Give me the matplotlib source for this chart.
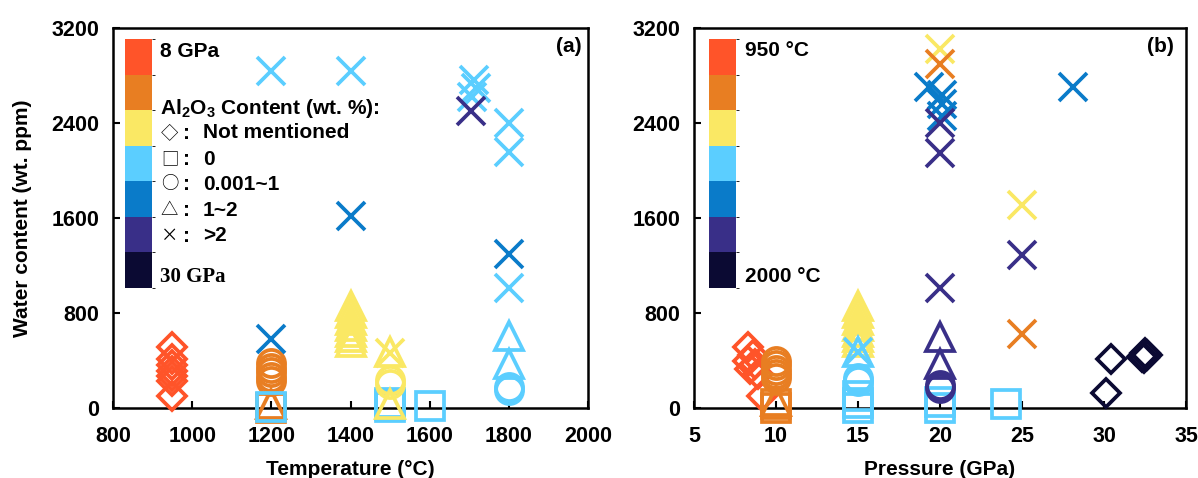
import matplotlib
matplotlib.use("Agg")
import matplotlib.pyplot as plt
from matplotlib.colors import ListedColormap, BoundaryNorm
from matplotlib.cm import ScalarMappable

plt.rcParams['font.family'] = ['Liberation Sans', 'DejaVu Sans']
plt.rcParams['font.weight'] = 'bold'
plt.rcParams['mathtext.fontset'] = 'custom'
plt.rcParams['mathtext.rm'] = 'Liberation Sans:bold'
plt.rcParams['mathtext.default'] = 'rm'

# 7-step colour scale
bin_colors = ['#FF5429', '#E87E22', '#FAE864', '#5BCEFF', '#0A7BC9', '#392F88', '#0B0A33']

# ---------------- panel (a): temperature vs water content, colour = pressure bin
a_T = [950, 950, 950, 950, 950, 950, 950,
       1200, 1200, 1200, 1200, 1200, 1200, 1200, 1200, 1200, 1200,
       1400, 1400, 1400, 1400, 1400, 1400, 1400, 1400, 1400,
       1500, 1500, 1500, 1500, 1500, 1500, 1500, 1500,
       1600,
       1712, 1718, 1708, 1705,
       1800, 1800, 1800, 1800, 1800, 1800, 1800, 1800]
a_W = [510, 410, 360, 310, 270, 230, 100,
       380, 340, 300, 260, 230, 0, 30, 10, 580, 2840,
       2840, 1620, 860, 800, 740, 690, 640, 600, 560,
       45, 25, 5, 470, 460, 240, 205, 30,
       20,
       2760, 2695, 2620, 2500,
       2400, 2155, 1300, 1010, 606, 370, 177, 150]
a_M = ['D', 'D', 'D', 'D', 'D', 'D', 'D',
       'o', 'o', 'o', 'o', 'o', 's', '^', 's', 'x', 'x',
       'x', 'x', '^', '^', '^', '^', '^', '^', '^',
       's', 's', 's', '^', 'x', 'o', 'o', '^',
       's',
       'x', 'x', 'x', 'x',
       'x', 'x', 'x', 'x', '^', '^', 'o', 'o']
a_C = [0, 0, 0, 0, 0, 0, 0,
       1, 1, 1, 1, 1, 1, 1, 3, 4, 3,
       3, 4, 2, 2, 2, 2, 2, 2, 2,
       3, 3, 3, 2, 2, 2, 2, 2,
       3,
       3, 3, 3, 5,
       3, 3, 4, 3, 3, 3, 3, 3]

# ---------------- panel (b): pressure vs water content, colour = temperature bin
b_P = [8.3, 8.6, 8.3, 8.7, 8.4, 8.9, 9.15,
       10, 10, 10, 10, 10, 10, 10, 10,
       15, 15, 15, 15, 15, 15, 15,
       15, 15, 15, 15, 15, 15, 15,
       20, 20, 19.3, 20.1, 20.1, 20.1, 20, 20, 20,
       20, 20, 20, 20, 20, 20,
       24.0, 25, 25, 25, 28.1,
       30.1, 30.45, 32.3, 32.5, 32.4, 32.6, 32.45]
b_W = [510, 450, 400, 370, 330, 290, 105,
       400, 360, 320, 285, 250, 0, 30, 60,
       860, 800, 740, 690, 640, 600, 560,
       100, 40, 0, 250, 225, 470, 470,
       3020, 2900, 2700, 2640, 2560, 2460, 2400, 2150, 1010,
       600, 370, 0, 50, 190, 165,
       30, 1710, 1290, 620, 2700,
       130, 410, 430, 460, 440, 450, 420]
b_M = ['D', 'D', 'D', 'D', 'D', 'D', 'D',
       'o', 'o', 'o', 'o', 'o', 's', 's', '^',
       '^', '^', '^', '^', '^', '^', '^',
       's', 's', 's', 'o', 'o', '^', 'x',
       'x', 'x', 'x', 'x', 'x', 'x', 'x', 'x', 'x',
       '^', '^', 's', 's', 'o', 'o',
       's', 'x', 'x', 'x', 'x',
       'D', 'D', 'D', 'D', 'D', 'D', 'D']
b_C = [0, 0, 0, 0, 0, 0, 0,
       1, 1, 1, 1, 1, 1, 1, 1,
       2, 2, 2, 2, 2, 2, 2,
       3, 3, 3, 3, 3, 3, 3,
       2, 1, 4, 4, 4, 4, 5, 5, 5,
       5, 5, 3, 3, 5, 5,
       3, 2, 5, 1, 4,
       6, 6, 6, 6, 6, 6, 6]

legend_syms = ['\u25C7', '\u25A1', '\u25CB', '\u25B3', '\u00D7']
legend_labels = ['Not mentioned', '0', '0.001~1', '1~2', '>2']

W, H = 1198, 478
fig = plt.figure(figsize=(W / 100, H / 100), dpi=100)
ax1 = fig.add_axes([113 / W, 1 - 408 / H, 475 / W, 380 / H])
ax2 = fig.add_axes([694 / W, 1 - 408 / H, 492 / W, 380 / H])


def draw(ax, xs, ys, ms_, cs):
    for x, y, m, c in zip(xs, ys, ms_, cs):
        size = 14 if m == 'D' else 19.5
        ax.plot([x], [y], linestyle='none', marker=m, markersize=size,
                markerfacecolor='none', markeredgecolor=bin_colors[c],
                markeredgewidth=2.7, clip_on=False, zorder=3)


draw(ax1, a_T, a_W, a_M, a_C)
draw(ax2, b_P, b_W, b_M, b_C)

for ax in (ax1, ax2):
    ax.set_ylim(0, 3200)
    ax.set_yticks([0, 800, 1600, 2400, 3200])
    ax.tick_params(direction='in', length=5, width=1.5, labelsize=15.5)
    ax.tick_params(axis='x', pad=13)
    ax.tick_params(axis='y', pad=10)
    for sp in ax.spines.values():
        sp.set_linewidth(1.8)
    for lab in ax.get_xticklabels() + ax.get_yticklabels():
        lab.set_fontweight('bold')

ax1.set_xlim(800, 2000)
ax1.set_xticks([800, 1000, 1200, 1400, 1600, 1800, 2000])
ax2.set_xlim(5, 35)
ax2.set_xticks([5, 10, 15, 20, 25, 30, 35])

ax1.set_xlabel('Temperature (\u00B0C)', fontsize=15, fontweight='bold', labelpad=9)
ax2.set_xlabel('Pressure (GPa)', fontsize=15, fontweight='bold', labelpad=9)
ax1.set_ylabel('Water content (wt. ppm)', fontsize=15, fontweight='bold', labelpad=14)

# stepped colour bars inside the axes
cmap = ListedColormap(bin_colors[::-1])
norm = BoundaryNorm(list(range(8)), 7)
for ax, x0, w in ((ax1, 0.0253, 0.0568), (ax2, 0.0304, 0.0548)):
    cax = ax.inset_axes([x0, 0.316, w, 0.655])
    cb = fig.colorbar(ScalarMappable(norm=norm, cmap=cmap), cax=cax)
    cb.outline.set_visible(False)
    cax.set_yticks([])
    cax.tick_params(length=0)

# panel (a) annotations
ax1.text(0.099, 0.937, '8 GPa', transform=ax1.transAxes, fontsize=15,
         fontweight='bold', va='center', ha='left')
ax1.text(0.099, 0.345, '30 GPa', transform=ax1.transAxes, fontsize=15,
         fontweight='bold', va='center', ha='left', family=['Liberation Serif'])
ax1.text(0.099, 0.789, r'Al$_2$O$_3$ Content (wt. %):', transform=ax1.transAxes,
         fontsize=15, fontweight='bold', va='center', ha='left')
rows_y = [0.724, 0.655, 0.589, 0.521, 0.453]
for yy, sym, lab in zip(rows_y, legend_syms, legend_labels):
    ax1.text(0.101, yy, sym, transform=ax1.transAxes, fontsize=12.5,
             family=['Noto Sans CJK SC', 'DejaVu Sans'], fontweight='normal',
             va='center', ha='left')
    ax1.text(0.147, yy - 0.002, ':', transform=ax1.transAxes, fontsize=15,
             fontweight='bold', va='center', ha='left')
    ax1.text(0.189, yy, lab, transform=ax1.transAxes, fontsize=15,
             fontweight='bold', va='center', ha='left')
ax1.text(0.987, 0.95, '(a)', transform=ax1.transAxes, fontsize=15,
         fontweight='bold', va='center', ha='right')

# panel (b) annotations
ax2.text(0.1034, 0.942, '950 \u00B0C', transform=ax2.transAxes, fontsize=15,
         fontweight='bold', va='center', ha='left')
ax2.text(0.1034, 0.345, '2000 \u00B0C', transform=ax2.transAxes, fontsize=15,
         fontweight='bold', va='center', ha='left')
ax2.text(0.976, 0.95, '(b)', transform=ax2.transAxes, fontsize=15,
         fontweight='bold', va='center', ha='right')

fig.savefig('out.png', dpi=100, facecolor='white')
